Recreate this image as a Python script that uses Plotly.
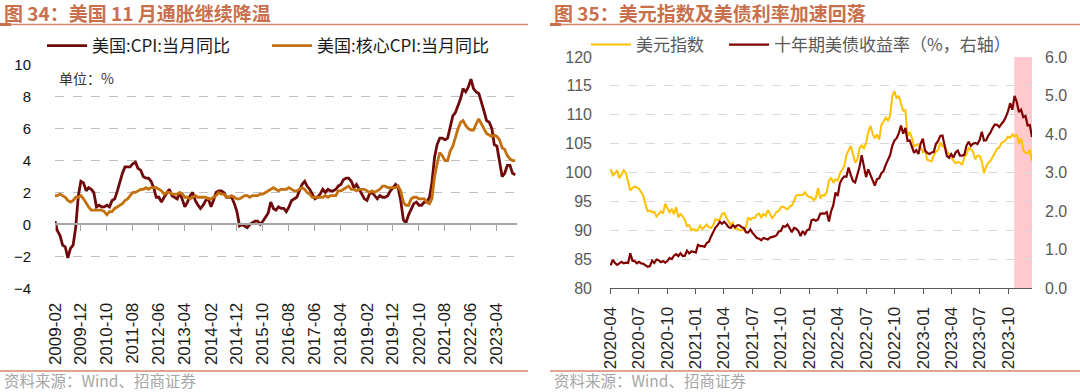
import pandas as pd
import plotly.graph_objects as go

W, H = 1080, 392


def fx(p):
    return p / W


def fy(p):
    return 1 - p / H


# ---------------- Left chart: US CPI YoY (monthly, 2009-02 .. 2023-11) ----------------
cpi_start = "2009-02-01"
cpi_yoy = [
    0.2, -0.4, -0.7, -1.3, -1.4, -2.1, -1.5, -1.3, -0.2, 1.8, 2.7,
    2.6, 2.1, 2.3, 2.2, 2.0, 1.1, 1.2, 1.1, 1.1, 1.2, 1.1, 1.5,
    1.6, 2.1, 2.7, 3.2, 3.6, 3.6, 3.6, 3.8, 3.9, 3.5, 3.4, 3.0,
    2.9, 2.9, 2.7, 2.3, 1.7, 1.7, 1.4, 1.7, 2.0, 2.2, 1.8, 1.7,
    1.6, 2.0, 1.5, 1.1, 1.4, 1.8, 2.0, 1.5, 1.2, 1.0, 1.2, 1.5,
    1.6, 1.1, 1.5, 2.0, 2.1, 2.1, 2.0, 1.7, 1.7, 1.7, 1.3, 0.8,
    -0.1, 0.0, -0.1, -0.2, 0.0, 0.1, 0.2, 0.2, 0.0, 0.2, 0.5, 0.7,
    1.4, 1.0, 0.9, 1.1, 1.0, 1.0, 0.8, 1.1, 1.5, 1.6, 1.7, 2.1,
    2.5, 2.7, 2.4, 2.2, 1.9, 1.6, 1.7, 1.9, 2.2, 2.0, 2.2, 2.1,
    2.1, 2.2, 2.4, 2.5, 2.8, 2.9, 2.9, 2.7, 2.3, 2.5, 2.2, 1.9,
    1.6, 1.5, 1.9, 2.0, 1.8, 1.6, 1.8, 1.7, 1.7, 1.8, 2.1, 2.3,
    2.5, 2.3, 1.5, 0.3, 0.1, 0.6, 1.0, 1.3, 1.4, 1.2, 1.2, 1.4,
    1.4, 1.7, 2.6, 4.2, 5.0, 5.4, 5.4, 5.3, 5.4, 6.2, 6.8, 7.0,
    7.5, 7.9, 8.5, 8.3, 8.6, 9.1, 8.5, 8.3, 8.2, 7.7, 7.1, 6.5,
    6.4, 6.0, 5.0, 4.9, 4.0, 3.0, 3.2, 3.7, 3.7, 3.2, 3.1,
]
core_yoy = [
    1.8, 1.8, 1.9, 1.8, 1.7, 1.5, 1.4, 1.5, 1.7, 1.7, 1.8,
    1.6, 1.3, 1.1, 0.9, 0.9, 0.9, 0.9, 0.9, 0.8, 0.6, 0.8, 0.8,
    1.0, 1.1, 1.2, 1.3, 1.5, 1.6, 1.8, 2.0, 2.0, 2.1, 2.2, 2.2,
    2.3, 2.2, 2.3, 2.3, 2.3, 2.2, 2.1, 1.9, 2.0, 2.0, 1.9, 1.9,
    1.9, 2.0, 1.9, 1.7, 1.7, 1.6, 1.7, 1.8, 1.7, 1.7, 1.7, 1.7,
    1.6, 1.6, 1.7, 1.8, 2.0, 1.9, 1.9, 1.7, 1.7, 1.8, 1.7, 1.6,
    1.6, 1.7, 1.8, 1.8, 1.7, 1.8, 1.8, 1.8, 1.9, 1.9, 2.0, 2.1,
    2.2, 2.3, 2.2, 2.1, 2.2, 2.2, 2.2, 2.3, 2.2, 2.1, 2.1, 2.2,
    2.3, 2.2, 2.0, 1.9, 1.7, 1.7, 1.7, 1.7, 1.7, 1.8, 1.7, 1.8,
    1.8, 1.8, 2.1, 2.1, 2.2, 2.3, 2.4, 2.2, 2.2, 2.1, 2.2, 2.2,
    2.2, 2.1, 2.0, 2.1, 2.0, 2.1, 2.2, 2.4, 2.4, 2.3, 2.3, 2.3,
    2.3, 2.4, 2.1, 1.4, 1.2, 1.2, 1.6, 1.7, 1.7, 1.6, 1.6, 1.6,
    1.4, 1.3, 1.6, 3.0, 3.8, 4.5, 4.3, 4.0, 4.0, 4.6, 4.9, 5.5,
    6.0, 6.4, 6.5, 6.2, 6.0, 5.9, 5.9, 6.3, 6.6, 6.3, 6.0, 5.7,
    5.6, 5.5, 5.6, 5.5, 5.3, 4.8, 4.7, 4.3, 4.1, 4.0, 4.0,
]
cpi_months = pd.date_range(cpi_start, periods=len(cpi_yoy), freq="MS")
left_tick_dates = pd.date_range("2009-02-01", "2023-04-01", freq="10MS")
left_x_range = ["2009-02-01", "2023-11-22"]
left_y_range = [-4, 10]

# ---------------- Right chart: DXY & UST 10Y (weekly Friday closes) ----------------
dxy_2020 = [100.6, 99.5, 99.8, 100.4,
            99.0, 99.7, 100.4, 99.9, 98.3,
            96.9, 97.3, 97.6, 97.4,
            97.2, 96.6, 95.9, 94.4, 93.3,
            93.4, 93.1, 93.2, 92.4,
            92.8, 93.3, 92.9, 94.6,
            93.8, 93.1, 93.7, 92.8, 94.0,
            92.2, 92.8, 92.4, 91.8,
            90.7, 90.9, 90.0, 90.2]
dxy_2021 = [89.9, 90.1, 90.8, 90.2, 90.6,
            91.0, 90.5, 90.4, 90.9,
            91.9, 91.7, 91.9, 92.8,
            93.0, 92.2, 91.6, 90.9, 91.3,
            90.2, 90.3, 90.0, 90.0,
            90.1, 90.6, 92.2, 91.8,
            92.2, 92.1, 92.7, 92.9, 92.2,
            92.8, 92.5, 93.5, 92.7,
            92.1, 92.6, 93.2, 93.3,
            94.0, 94.1, 93.9, 93.6, 94.1,
            94.3, 95.1, 96.0, 96.1,
            96.1, 96.1, 96.6, 96.0, 95.7]
dxy_2022 = [95.7, 95.2, 95.6, 97.3,
            95.5, 96.1, 96.0, 96.6,
            98.6, 99.1, 98.2, 98.8,
            98.6, 99.8, 100.5, 101.1, 103.0,
            103.7, 104.6, 103.2, 101.7,
            102.2, 104.2, 104.7, 104.2,
            105.1, 107.0, 108.1, 106.7, 105.9,
            106.6, 105.7, 108.2, 108.8,
            109.5, 109.0, 109.8, 113.2, 114.1,
            112.8, 113.3, 111.9, 110.7,
            110.8, 106.3, 107.0, 106.0,
            104.5, 104.8, 104.7, 104.3, 103.5]
dxy_2023 = [103.9, 102.2, 102.0, 101.9,
            103.0, 103.6, 103.9, 105.2,
            104.5, 104.6, 103.7, 103.1, 102.5,
            102.1, 101.6, 101.8, 101.7,
            101.3, 102.7, 103.2, 104.2,
            104.0, 103.6, 102.3, 102.9, 102.9,
            101.9, 99.9, 101.1, 101.7,
            102.0, 102.8, 103.4, 104.1,
            104.3, 105.1, 105.3, 105.6, 106.2,
            106.0, 106.6, 106.2, 106.6,
            105.0, 105.9, 103.9, 103.4,
            103.3, 104.0, 102.0]

ust_2020 = [0.59, 0.73, 0.65, 0.60,
            0.64, 0.68, 0.64, 0.66, 0.65,
            0.90, 0.71, 0.70, 0.64,
            0.68, 0.64, 0.63, 0.59, 0.55,
            0.57, 0.71, 0.65, 0.74,
            0.72, 0.67, 0.70, 0.66,
            0.70, 0.78, 0.75, 0.84, 0.88,
            0.83, 0.90, 0.83, 0.84,
            0.97, 0.90, 0.95, 0.94]
ust_2021 = [0.92, 1.12, 1.09, 1.09, 1.07,
            1.17, 1.20, 1.34, 1.44,
            1.57, 1.63, 1.72, 1.67,
            1.72, 1.66, 1.58, 1.56, 1.63,
            1.58, 1.63, 1.63, 1.58,
            1.56, 1.45, 1.44, 1.52,
            1.43, 1.36, 1.30, 1.28, 1.24,
            1.30, 1.28, 1.26, 1.31,
            1.32, 1.34, 1.37, 1.47,
            1.48, 1.61, 1.59, 1.65, 1.55,
            1.45, 1.56, 1.54, 1.48,
            1.35, 1.48, 1.40, 1.50, 1.52]
ust_2022 = [1.76, 1.78, 1.75, 1.78,
            1.93, 1.94, 1.93, 1.97,
            1.73, 2.00, 2.15, 2.48,
            2.39, 2.72, 2.83, 2.90, 2.89,
            3.13, 2.93, 2.78, 2.74,
            2.96, 3.15, 3.45, 3.13,
            2.88, 3.08, 2.93, 2.78, 2.66,
            2.83, 2.85, 2.98, 3.04,
            3.20, 3.32, 3.45, 3.69, 3.83,
            3.89, 4.02, 4.22, 4.01,
            4.16, 3.82, 3.83, 3.68,
            3.51, 3.58, 3.48, 3.75, 3.88]
ust_2023 = [3.57, 3.51, 3.48, 3.52,
            3.53, 3.74, 3.82, 3.95,
            3.96, 3.70, 3.43, 3.38, 3.48,
            3.39, 3.52, 3.57, 3.44,
            3.44, 3.46, 3.70, 3.80,
            3.69, 3.75, 3.77, 3.74, 3.84,
            4.06, 3.83, 3.84, 3.96,
            4.04, 4.16, 4.25, 4.24,
            4.18, 4.26, 4.33, 4.44, 4.59,
            4.80, 4.63, 4.99, 4.84,
            4.57, 4.63, 4.44, 4.47,
            4.22, 4.23, 3.92]

first_fridays = ["2020-04-03", "2021-01-01", "2022-01-07", "2023-01-06"]
dxy_years = [dxy_2020, dxy_2021, dxy_2022, dxy_2023]
ust_years = [ust_2020, ust_2021, ust_2022, ust_2023]

dxy_dates, dxy_vals = [], []
for start, vals in zip(first_fridays, dxy_years):
    dxy_dates += list(pd.date_range(start, periods=len(vals), freq="W-FRI"))
    dxy_vals += vals
ust_dates, ust_vals = [], []
for start, vals in zip(first_fridays, ust_years):
    ust_dates += list(pd.date_range(start, periods=len(vals), freq="W-FRI"))
    ust_vals += vals

right_tick_dates = pd.date_range("2020-04-01", "2023-10-01", freq="3MS")
right_x_range = ["2020-04-01", "2023-12-15"]
highlight_start = "2023-10-19"
highlight_end = "2023-12-15"

# ---------------- styling ----------------
LAT = "Liberation Sans, Arial, Noto Sans CJK SC, sans-serif"
CJK = "Noto Sans CJK SC, Liberation Sans, sans-serif"
TITLE_C = "#C8704C"
LINE_C = "#D4876A"

left_dom_x = [fx(55), fx(517)]
left_dom_y = [fy(288.3), fy(64.7)]
right_dom_x = [fx(610), fx(1032)]
right_dom_y = [fy(288), fy(57)]

zero_pos = left_dom_y[0] + (left_dom_y[1] - left_dom_y[0]) * (0 - left_y_range[0]) / (left_y_range[1] - left_y_range[0])

fig = go.Figure()

fig.add_trace(go.Scatter(x=cpi_months, y=cpi_yoy, mode="lines", name="美国:CPI:当月同比",
                         line=dict(color="#6E0A0A", width=2.8), xaxis="x", yaxis="y", legend="legend"))
fig.add_trace(go.Scatter(x=cpi_months, y=core_yoy, mode="lines", name="美国:核心CPI:当月同比",
                         line=dict(color="#C4700E", width=2.8), xaxis="x", yaxis="y", legend="legend2"))
# carrier for the zero-line axis (invisible)
fig.add_trace(go.Scatter(x=cpi_months, y=cpi_yoy, mode="lines", line=dict(width=0), opacity=0,
                         showlegend=False, hoverinfo="skip", xaxis="x3", yaxis="y"))

fig.add_trace(go.Scatter(x=dxy_dates, y=dxy_vals, mode="lines", name="美元指数",
                         line=dict(color="#FFC000", width=2), xaxis="x2", yaxis="y2", legend="legend3"))
fig.add_trace(go.Scatter(x=ust_dates, y=ust_vals, mode="lines", name="十年期美债收益率（%，右轴）",
                         line=dict(color="#800000", width=2.2), xaxis="x2", yaxis="y3", legend="legend4"))

grid_left = dict(showgrid=True, gridcolor="#BFBFBF", griddash="dash", gridwidth=1)


def leg(xpx, ypx, size, color):
    return dict(orientation="h", x=fx(xpx), y=fy(ypx), xanchor="left", yanchor="middle",
                font=dict(family=CJK, size=size, color=color), bgcolor="rgba(0,0,0,0)",
                borderwidth=0, itemwidth=40)


fig.update_layout(
    width=W, height=H,
    margin=dict(l=0, r=0, t=0, b=0, autoexpand=False),
    paper_bgcolor="white", plot_bgcolor="white",
    xaxis=dict(domain=left_dom_x, anchor="y", type="date", range=left_x_range,
               tickvals=list(left_tick_dates), tickformat="%Y-%m", tickangle=-90,
               ticks="", showline=False, showgrid=False, zeroline=False, automargin=False,
               tickfont=dict(family=LAT, size=17, color="#1A1A1A"), ticklabelstandoff=10),
    xaxis3=dict(overlaying="x", anchor="free", position=zero_pos, type="date", range=left_x_range,
                tickvals=list(left_tick_dates), showticklabels=False, ticks="outside", ticklen=6,
                tickcolor="#A6A6A6", tickwidth=1.3, showline=True, linecolor="#A6A6A6", linewidth=1.5,
                showgrid=False, zeroline=False, automargin=False),
    yaxis=dict(domain=left_dom_y, anchor="x", range=left_y_range, dtick=2, ticks="",
               zeroline=False, showline=False, automargin=False,
               tickfont=dict(family=LAT, size=15, color="#111111"),
               ticklabelstandoff=23, **grid_left),
    xaxis2=dict(domain=right_dom_x, anchor="y2", type="date", range=right_x_range,
                tickvals=list(right_tick_dates), tickformat="%Y-%m", tickangle=-90,
                ticks="outside", ticklen=5, tickcolor="#595959", showline=True, linecolor="#595959",
                linewidth=1, showgrid=False, zeroline=False, automargin=False,
                tickfont=dict(family=LAT, size=17, color="#262626"), ticklabelstandoff=6),
    yaxis2=dict(domain=right_dom_y, anchor="x2", range=[80, 120], dtick=5, ticks="",
                zeroline=False, showline=False, showgrid=True, gridcolor="#D9D9D9", griddash="dash",
                automargin=False,
                tickfont=dict(family=LAT, size=16, color="#595959"), ticklabelstandoff=17),
    yaxis3=dict(overlaying="y2", anchor="x2", side="right", range=[0, 6], dtick=1, tickformat=".1f",
                ticks="", zeroline=False, showline=False, showgrid=False, automargin=False,
                tickfont=dict(family=LAT, size=16, color="#595959"), ticklabelstandoff=12),
    legend=leg(42, 46, 17, "#1A1A1A"),
    legend2=leg(267, 46, 17, "#1A1A1A"),
    legend3=leg(586, 45, 17, "#595959"),
    legend4=leg(724, 45, 17, "#595959"),
    showlegend=True,
)

annotations = [
    dict(text="<b>图 34：美国 11 月通胀继续降温</b>", x=fx(2), y=fy(12), xref="paper", yref="paper",
         xanchor="left", yanchor="middle", showarrow=False, font=dict(family=CJK, size=19, color=TITLE_C)),
    dict(text="<b>图 35：美元指数及美债利率加速回落</b>", x=fx(552), y=fy(12), xref="paper", yref="paper",
         xanchor="left", yanchor="middle", showarrow=False, font=dict(family=CJK, size=19, color=TITLE_C)),
    dict(text="单位：%", x=fx(57), y=fy(78), xref="paper", yref="paper", xanchor="left", yanchor="middle",
         showarrow=False, font=dict(family=CJK, size=14, color="#333333")),
    dict(text="资料来源：Wind、招商证券", x=fx(2), y=fy(380), xref="paper", yref="paper",
         xanchor="left", yanchor="middle", showarrow=False, font=dict(family=CJK, size=15.5, color="#A6A6A6")),
    dict(text="资料来源：Wind、招商证券", x=fx(552), y=fy(380), xref="paper", yref="paper",
         xanchor="left", yanchor="middle", showarrow=False, font=dict(family=CJK, size=15.5, color="#A6A6A6")),
]
fig.update_layout(annotations=annotations)

shapes = [
    dict(type="rect", xref="x2", yref="y2 domain", x0=highlight_start, x1=highlight_end, y0=0, y1=1,
         fillcolor="#FFC9CD", line=dict(width=0), layer="below"),
    dict(type="line", xref="paper", yref="paper", x0=0, x1=fx(528), y0=fy(24.5), y1=fy(24.5),
         line=dict(color=LINE_C, width=1.5)),
    dict(type="line", xref="paper", yref="paper", x0=0, x1=fx(11), y0=fy(24.5), y1=fy(24.5),
         line=dict(color=TITLE_C, width=3)),
    dict(type="line", xref="paper", yref="paper", x0=fx(550), x1=1, y0=fy(24.5), y1=fy(24.5),
         line=dict(color=LINE_C, width=1.5)),
    dict(type="line", xref="paper", yref="paper", x0=fx(550), x1=fx(561), y0=fy(24.5), y1=fy(24.5),
         line=dict(color=TITLE_C, width=3)),
    dict(type="line", xref="paper", yref="paper", x0=0, x1=fx(528), y0=fy(371), y1=fy(371),
         line=dict(color=LINE_C, width=1.5)),
    dict(type="line", xref="paper", yref="paper", x0=fx(550), x1=1, y0=fy(371), y1=fy(371),
         line=dict(color=LINE_C, width=1.5)),
]
fig.update_layout(shapes=shapes)

fig.write_html(
    "out.html",
    config={"displayModeBar": False},
    post_script="document.documentElement.style.margin='0';document.body.style.margin='0';"
                "document.body.style.padding='0';document.body.style.overflow='hidden';",
)
